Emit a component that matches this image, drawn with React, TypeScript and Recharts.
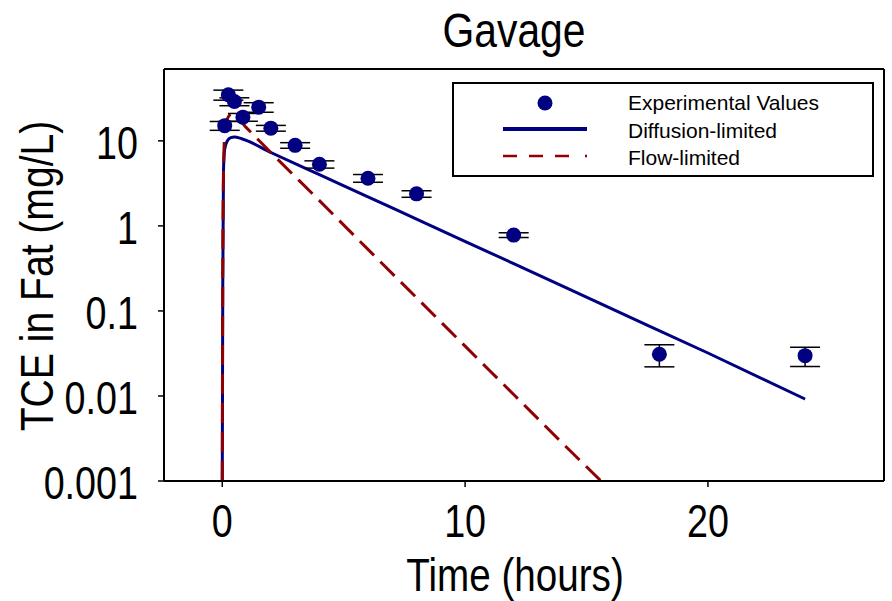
import React from "react";
import {
  ComposedChart,
  Line,
  Scatter,
  ErrorBar,
  XAxis,
  YAxis,
} from "recharts";

// measured points (hours, mg/L, +/- sd)
const expTime = [0.1, 0.25, 0.5, 0.85, 1.5, 2, 3, 4, 6, 8, 12, 18, 24];
const expConc = [15.1, 34.8, 29, 19, 24.9, 14.1, 8.85, 5.3, 3.64, 2.38, 0.78, 0.031, 0.0298];
const expErr = [1.8, 4.7, 3.1, 2, 3.2, 1.1, 0.67, 0.52, 0.38, 0.21, 0.05, 0.009, 0.0076];

// model curves
const diffTime = [0, 0.02, 0.05, 0.1, 0.2, 0.35, 0.5, 0.8, 2, 4, 6, 8, 12, 16, 20, 24];
const diffConc = [0.001, 0.2, 4.5, 8, 9.9, 10.9, 11.1, 10.6, 7.3, 4.0, 2.2, 1.2, 0.36, 0.107, 0.032, 0.0092];

const flowTime = [0, 0.02, 0.05, 0.1, 0.2, 0.4, 1, 2, 4, 6, 8, 10, 12, 14, 15.6];
const flowConc = [0.001, 0.3, 4, 12, 18, 21, 14.2, 7.3, 1.98, 0.53, 0.143, 0.0385, 0.0104, 0.0028, 0.001];

const xTicks = [0, 10, 20];
const yTicks = [0.001, 0.01, 0.1, 1, 10];
const yTickLabels = ["0.001", "0.01", "0.1", "1", "10"];

const NAVY = "#000080";
const DARKRED = "#900000";
const FONT = "'Liberation Sans', Arial, sans-serif";

const expData = expTime.map((t, i) => ({ t, v: expConc[i], e: expErr[i] }));
const diffData = diffTime.map((t, i) => ({ t, v: diffConc[i] }));
const flowData = flowTime.map((t, i) => ({ t, v: flowConc[i] }));

function XTick(props: any) {
  const { x, y, payload } = props;
  return (
    <text
      transform={`translate(${x},${y + 48}) scale(0.82,1)`}
      textAnchor="middle"
      fontSize={46}
      fontFamily={FONT}
      fill="#000"
    >
      {payload.value}
    </text>
  );
}

function YTick(props: any) {
  const { x, y, payload } = props;
  const idx = yTicks.indexOf(payload.value);
  return (
    <text
      transform={`translate(${x - 18},${y + 18}) scale(0.82,1)`}
      textAnchor="end"
      fontSize={46}
      fontFamily={FONT}
      fill="#000"
    >
      {idx >= 0 ? yTickLabels[idx] : payload.value}
    </text>
  );
}

const dot = (p: any) => <circle cx={p.cx} cy={p.cy} r={7.5} fill={NAVY} />;

export default function App() {
  return (
    <div style={{ position: "absolute", left: 0, top: 0, background: "#fff" }}>
      <ComposedChart
        width={892}
        height={601}
        margin={{ top: 63, right: 2, bottom: 60, left: 64 }}
      >
        <XAxis
          type="number"
          dataKey="t"
          domain={[-2.4, 27.25]}
          ticks={xTicks}
          interval={0}
          allowDataOverflow
          height={60}
          tickSize={6}
          tickMargin={2}
          axisLine={{ stroke: "#000", strokeWidth: 2 }}
          tickLine={{ stroke: "#000", strokeWidth: 1.5 }}
          tick={<XTick />}
        />
        <XAxis
          xAxisId="top"
          orientation="top"
          type="number"
          dataKey="t"
          domain={[-2.4, 27.25]}
          ticks={xTicks}
          interval={0}
          allowDataOverflow
          height={6}
          tickSize={6}
          axisLine={{ stroke: "#000", strokeWidth: 2 }}
          tickLine={{ stroke: "#000", strokeWidth: 1.5 }}
          tick={false}
        />
        <YAxis
          type="number"
          scale="log"
          domain={[0.001, 70]}
          ticks={yTicks}
          interval={0}
          allowDataOverflow
          width={100}
          tickSize={6}
          tickMargin={2}
          axisLine={{ stroke: "#000", strokeWidth: 2 }}
          tickLine={{ stroke: "#000", strokeWidth: 1.5 }}
          tick={<YTick />}
        />
        <YAxis
          yAxisId="right"
          orientation="right"
          type="number"
          scale="log"
          domain={[0.001, 70]}
          ticks={yTicks}
          interval={0}
          allowDataOverflow
          width={6}
          tickSize={4}
          axisLine={{ stroke: "#000", strokeWidth: 2 }}
          tickLine={{ stroke: "#000", strokeWidth: 1.5 }}
          tick={false}
        />

        <Line
          data={diffData}
          dataKey="v"
          type="monotone"
          stroke={NAVY}
          strokeWidth={3}
          dot={false}
          activeDot={false}
          isAnimationActive={false}
        />
        <Line
          data={flowData}
          dataKey="v"
          type="monotone"
          stroke={DARKRED}
          strokeWidth={3}
          strokeDasharray="20 9"
          dot={false}
          activeDot={false}
          isAnimationActive={false}
        />
        <Scatter data={expData} dataKey="v" shape={dot} isAnimationActive={false}>
          <ErrorBar
            dataKey="e"
            direction="y"
            width={15}
            stroke="#000"
            strokeWidth={1.5}
            isAnimationActive={false}
          />
        </Scatter>

        {/* title and axis titles */}
        <text
          transform="translate(514,47) scale(0.85,1)"
          textAnchor="middle"
          fontSize={48}
          fontFamily={FONT}
          fill="#000"
        >
          Gavage
        </text>
        <text
          transform="translate(515,591) scale(0.84,1)"
          textAnchor="middle"
          fontSize={46}
          fontFamily={FONT}
          fill="#000"
        >
          Time (hours)
        </text>
        <text
          transform="translate(53,276) rotate(-90) scale(0.85,1)"
          textAnchor="middle"
          fontSize={46}
          fontFamily={FONT}
          fill="#000"
        >
          TCE in Fat (mg/L)
        </text>

        {/* legend box */}
        <g>
          <rect x={453} y={83} width={420} height={93} fill="#fff" stroke="#000" strokeWidth={2} />
          <circle cx={545} cy={103} r={7.5} fill={NAVY} />
          <line x1={503} y1={129} x2={587} y2={129} stroke={NAVY} strokeWidth={4} />
          <line
            x1={503}
            y1={156}
            x2={589}
            y2={156}
            stroke={DARKRED}
            strokeWidth={2.5}
            strokeDasharray="14 12 14 12 14 16 2 20"
          />
          <text x={628} y={110} fontSize={21} fontFamily={FONT} fill="#000">
            Experimental Values
          </text>
          <text x={628} y={138} fontSize={21} fontFamily={FONT} fill="#000">
            Diffusion-limited
          </text>
          <text x={628} y={165} fontSize={21} fontFamily={FONT} fill="#000">
            Flow-limited
          </text>
        </g>
      </ComposedChart>
    </div>
  );
}
